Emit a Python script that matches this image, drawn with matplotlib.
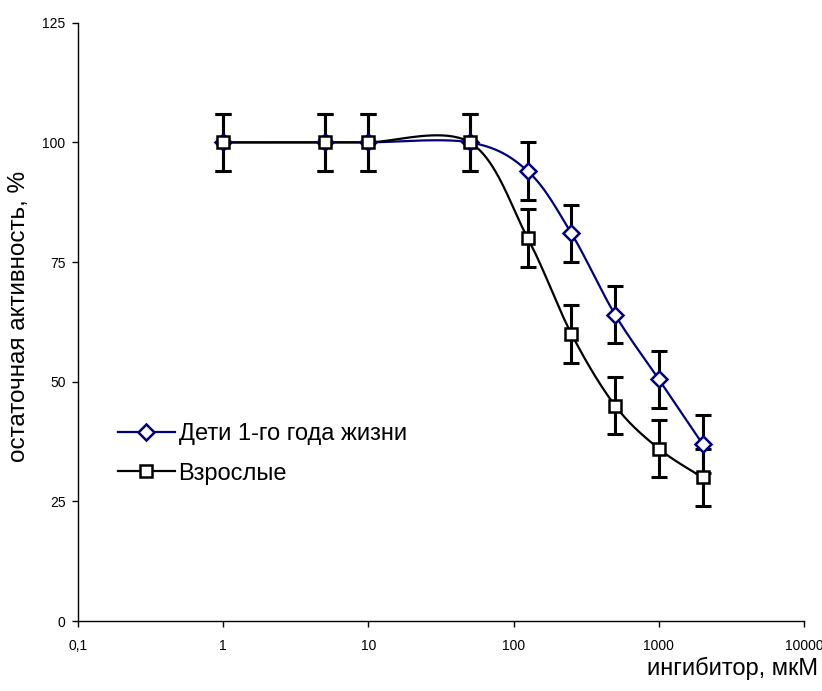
import numpy as np
import matplotlib
matplotlib.use("Agg")
import matplotlib.pyplot as plt
from matplotlib.lines import Line2D

plt.rcParams['font.family'] = ['Liberation Sans', 'DejaVu Sans']

# concentrations, uM
conc = [1, 5, 10, 50, 125, 250, 500, 1000, 2000]
children = [100, 100, 100, 100, 94, 81, 64, 50.5, 37]
adults = [100, 100, 100, 100, 80, 60, 45, 36, 30]
children_err = [6, 6, 6, 6, 6, 6, 6, 6, 6]
adults_err = [6, 6, 6, 6, 6, 6, 6, 6, 6]

x_ticks = [0.1, 1, 10, 100, 1000, 10000]
x_tick_labels = ['0,1', '1', '10', '100', '1000', '10000']
y_ticks = [0, 25, 50, 75, 100, 125]

label_children = 'Дети 1-го года жизни'
label_adults = 'Взрослые'

BLUE = '#000080'


def smooth(xs, ys, n=40):
    # excel-like smoothed line: cubic bezier through points (log x)
    px = np.log10(np.array(xs, dtype=float))
    py = np.array(ys, dtype=float)
    pts = np.column_stack([px, py])
    out = []
    for i in range(len(pts) - 1):
        p0 = pts[i - 1] if i > 0 else pts[i]
        p1 = pts[i]
        p2 = pts[i + 1]
        p3 = pts[i + 2] if i + 2 < len(pts) else pts[i + 1]
        c1 = p1 + (p2 - p0) / 6
        c2 = p2 - (p3 - p1) / 6
        t = np.linspace(0, 1, n)[:, None]
        seg = ((1 - t) ** 3 * p1 + 3 * (1 - t) ** 2 * t * c1
               + 3 * (1 - t) * t ** 2 * c2 + t ** 3 * p2)
        out.append(seg if i == 0 else seg[1:])
    out = np.vstack(out)
    return 10 ** out[:, 0], out[:, 1]


fig = plt.figure(figsize=(8.22, 6.91), dpi=100)
ax = fig.add_axes([0.0949, 0.1013, 0.8832, 0.8658])

sx, sy = smooth(conc, children)
ax.plot(sx, sy, color=BLUE, lw=1.6, zorder=2)
sx, sy = smooth(conc, adults)
ax.plot(sx, sy, color='black', lw=1.6, zorder=3)

ax.errorbar(conc, children, yerr=children_err, fmt='none', ecolor='black',
            elinewidth=2.2, capsize=5.8, capthick=2.2, zorder=4)
ax.errorbar(conc, adults, yerr=adults_err, fmt='none', ecolor='black',
            elinewidth=2.2, capsize=5.8, capthick=2.2, zorder=4)

ax.plot(conc, children, ls='none', marker='D', ms=8, mfc='white',
        mec=BLUE, mew=1.8, zorder=5)
ax.plot(conc, adults, ls='none', marker='s', ms=9, mfc='white',
        mec='black', mew=1.8, zorder=6)

ax.set_xscale('log')
ax.set_xlim(0.1, 10000)
ax.set_ylim(0, 125)
ax.set_xticks(x_ticks)
ax.set_xticklabels(x_tick_labels)
ax.xaxis.set_minor_locator(matplotlib.ticker.NullLocator())
ax.set_yticks(y_ticks)
ax.tick_params(direction='out', length=4, width=1, labelsize=10, pad=5)
ax.tick_params(axis='x', pad=9)
for s in ['top', 'right']:
    ax.spines[s].set_visible(False)
for s in ['left', 'bottom']:
    ax.spines[s].set_linewidth(1)

ax.set_ylabel('остаточная активность, %', fontsize=17.5)
ax.yaxis.set_label_coords(-0.066, 0.509)
fig.text(0.995, 0.033, 'ингибитор, мкМ', fontsize=17, ha='right', va='center')

handles = [
    Line2D([], [], color=BLUE, lw=1.6, marker='D', ms=8, mfc='white',
           mec=BLUE, mew=1.8),
    Line2D([], [], color='black', lw=1.6, marker='s', ms=9, mfc='white',
           mec='black', mew=1.8),
]
ax.legend(handles, [label_children, label_adults], loc='upper left',
          bbox_to_anchor=(0.055, 0.331), frameon=False, fontsize=17,
          handlelength=2.4, handletextpad=0.17, labelspacing=0.75,
          borderpad=0, borderaxespad=0)

fig.savefig('out.png', dpi=100)
